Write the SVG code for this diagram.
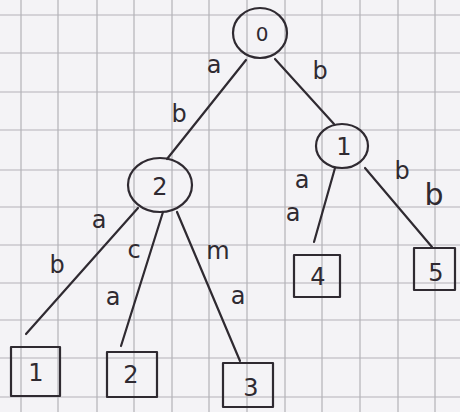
<svg xmlns="http://www.w3.org/2000/svg" width="460" height="412" viewBox="0 0 460 412">
<style>
.grid line{stroke:#b3b2b8;stroke-width:1.2}
.ink{fill:none;stroke:#2f2a31;stroke-width:2.2;stroke-linecap:round;stroke-linejoin:round}
.lbl{font-family:"DejaVu Sans","Liberation Sans",sans-serif;fill:#2f2a31;text-anchor:middle}
.e{font-size:24px}
.n{font-size:24px}
</style>
<rect width="460" height="412" fill="#f4f3f6"/>
<g class="grid">
<line x1="21" y1="0" x2="21" y2="412"/><line x1="58" y1="0" x2="58" y2="412"/><line x1="97" y1="0" x2="97" y2="412"/><line x1="134" y1="0" x2="134" y2="412"/><line x1="172" y1="0" x2="172" y2="412"/><line x1="209" y1="0" x2="209" y2="412"/><line x1="247" y1="0" x2="247" y2="412"/><line x1="285" y1="0" x2="285" y2="412"/><line x1="322" y1="0" x2="322" y2="412"/><line x1="360" y1="0" x2="360" y2="412"/><line x1="398" y1="0" x2="398" y2="412"/><line x1="435" y1="0" x2="435" y2="412"/>
<line x1="0" y1="15" x2="460" y2="15"/><line x1="0" y1="53" x2="460" y2="53"/><line x1="0" y1="92" x2="460" y2="92"/><line x1="0" y1="130" x2="460" y2="130"/><line x1="0" y1="170" x2="460" y2="170"/><line x1="0" y1="207" x2="460" y2="207"/><line x1="0" y1="245" x2="460" y2="245"/><line x1="0" y1="283" x2="460" y2="283"/><line x1="0" y1="320" x2="460" y2="320"/><line x1="0" y1="358" x2="460" y2="358"/><line x1="0" y1="397" x2="460" y2="397"/>
</g>
<g id="connectors" class="ink">
<line x1="246" y1="60" x2="167" y2="159"/>
<line x1="275" y1="59" x2="334" y2="124"/>
<line x1="335" y1="168" x2="314" y2="242"/>
<line x1="365" y1="168" x2="432" y2="247"/>
<line x1="138" y1="208" x2="26" y2="334"/>
<line x1="163" y1="212" x2="121" y2="346"/>
<line x1="177" y1="212" x2="240" y2="361"/>
</g>
<g id="edge-labels" class="lbl e">
<text x="214" y="73">a</text>
<text x="179" y="122">b</text>
<text x="320" y="79">b</text>
<text x="302" y="188">a</text>
<text x="293" y="221">a</text>
<text x="402" y="179">b</text>
<text x="434" y="205" style="font-size:30px">b</text>
<text x="99" y="228">a</text>
<text x="57" y="273">b</text>
<text x="134" y="258">c</text>
<text x="218" y="259">m</text>
<text x="113" y="305">a</text>
<text x="238" y="304">a</text>
</g>
<g id="node0"><ellipse class="ink" cx="260" cy="33" rx="27" ry="25"/><text class="lbl" x="262" y="41" style="font-size:20px">0</text></g>
<g id="node1"><ellipse class="ink" cx="342" cy="146" rx="26" ry="22"/><text class="lbl n" x="344" y="155">1</text></g>
<g id="node2"><ellipse class="ink" cx="160" cy="185" rx="32" ry="27"/><text class="lbl n" x="160" y="195">2</text></g>
<g id="leaf1"><rect class="ink" x="11" y="347" width="49" height="49"/><text class="lbl n" x="36" y="381">1</text></g>
<g id="leaf2"><rect class="ink" x="107" y="352" width="50" height="45"/><text class="lbl n" x="131" y="383">2</text></g>
<g id="leaf3"><rect class="ink" x="223" y="363" width="50" height="44"/><text class="lbl n" x="251" y="396">3</text></g>
<g id="leaf4"><rect class="ink" x="294" y="255" width="46" height="42"/><text class="lbl n" x="318" y="285">4</text></g>
<g id="leaf5"><rect class="ink" x="414" y="248" width="41" height="42"/><text class="lbl n" x="436" y="281">5</text></g>
</svg>
